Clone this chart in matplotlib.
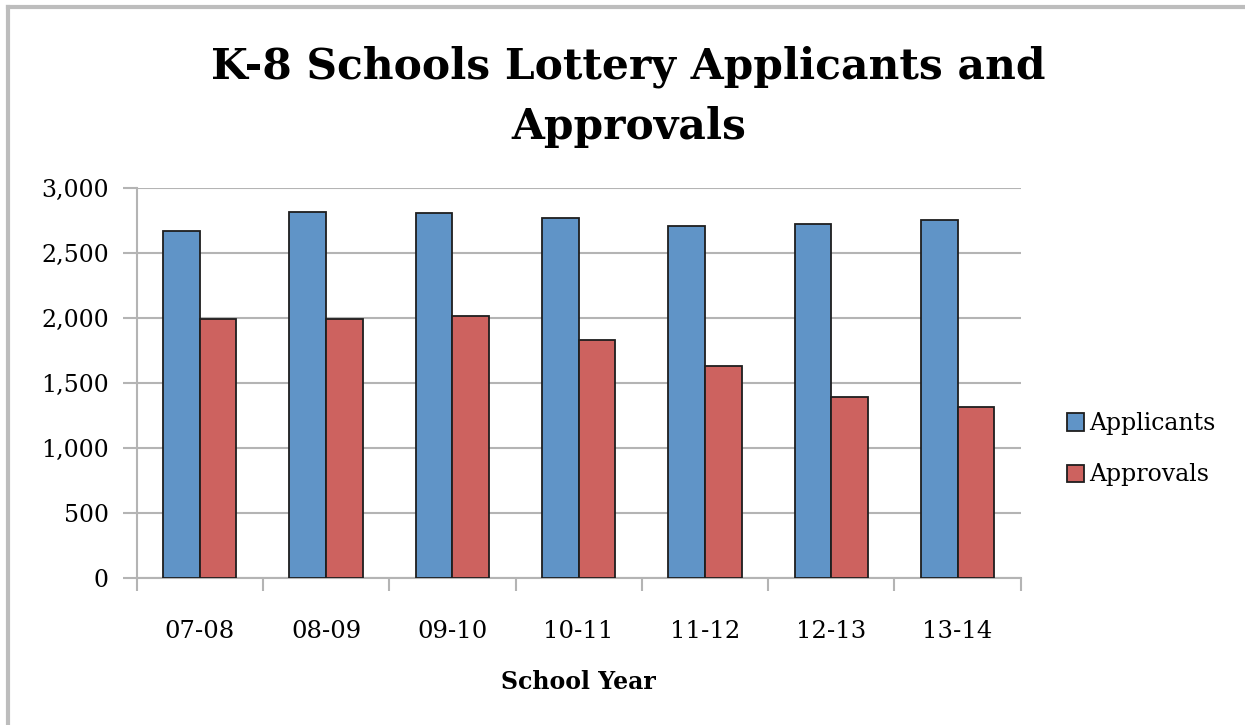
import numpy as np
import matplotlib
matplotlib.use("Agg")
import matplotlib.pyplot as plt
from matplotlib.lines import Line2D
from matplotlib.ticker import FuncFormatter

# lottery numbers per school year
years = ["07-08", "08-09", "09-10", "10-11", "11-12", "12-13", "13-14"]
applicants = [2665, 2815, 2808, 2770, 2705, 2725, 2750]
approvals = [1995, 1995, 2012, 1833, 1628, 1390, 1312]

blue = "#6094c7"
red = "#cd625f"
grid_gray = "#b4b4b4"
serif = ["DejaVu Serif"]

fig = plt.figure(figsize=(12.45, 7.25), dpi=100)
ax = fig.add_axes([0.1098, 0.2028, 0.71, 0.538])

x = np.arange(len(years))
w = 0.29
ax.bar(x - w / 2, applicants, w, color=blue, edgecolor="#1e1e1e",
       linewidth=1.3, label="Applicants", zorder=3)
ax.bar(x + w / 2, approvals, w, color=red, edgecolor="#1e1e1e",
       linewidth=1.3, label="Approvals", zorder=3)

ax.set_xlim(-0.5, len(years) - 0.5)
ax.set_ylim(0, 3000)
ax.set_yticks(np.arange(0, 3001, 500))
ax.yaxis.set_major_formatter(FuncFormatter(lambda v, p: f"{int(v):,}"))
ax.grid(axis="y", color=grid_gray, linewidth=1.5, zorder=0)

# category labels at centres, tick marks on the boundaries
ax.set_xticks(x)
ax.set_xticklabels(years, family=serif, fontsize=17.5)
ax.set_xticks(np.arange(-0.5, len(years)), minor=True)
ax.tick_params(axis="x", which="major", length=0, pad=30)
ax.tick_params(axis="x", which="minor", length=9, width=1.5, color=grid_gray)
ax.tick_params(axis="y", length=10, width=1.5, color=grid_gray, pad=10,
               labelsize=17)
for lab in ax.get_yticklabels():
    lab.set_family(serif)

for side in ("top", "right"):
    ax.spines[side].set_visible(False)
for side in ("left", "bottom"):
    ax.spines[side].set_color(grid_gray)
    ax.spines[side].set_linewidth(1.5)

ax.set_xlabel("School Year", family=serif, fontsize=17, fontweight="bold",
              labelpad=20)

fig.text(0.505, 0.866, "K-8 Schools Lottery Applicants and\nApprovals",
         ha="center", va="center", family=serif, fontsize=30.5,
         fontweight="bold", linespacing=1.55)

leg = ax.legend(loc="center left", bbox_to_anchor=(1.028, 0.33),
                frameon=False, prop={"family": serif, "size": 17},
                handlelength=0.75, handleheight=0.75, handletextpad=0.2,
                labelspacing=1.2)

# outer frame on top and left edges
fig.add_artist(Line2D([0.0068, 1.0], [0.991, 0.991], color="#bdbdbd",
                      linewidth=3, transform=fig.transFigure))
fig.add_artist(Line2D([0.0068, 0.0068], [0.0, 0.991], color="#bdbdbd",
                      linewidth=3, transform=fig.transFigure))

fig.savefig("out.png", dpi=100)
